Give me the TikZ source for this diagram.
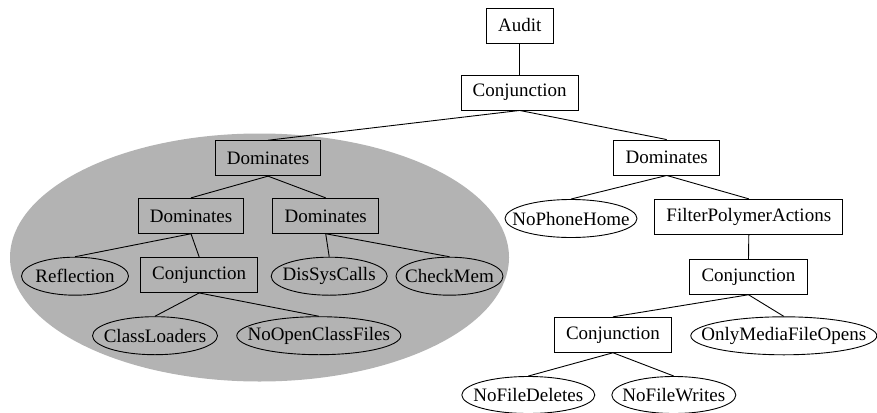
\documentclass[tikz,border=0pt]{standalone}
\usepackage{fontspec}
\setmainfont{Liberation Serif}
\usetikzlibrary{shapes.geometric}
\begin{document}
\begin{tikzpicture}[x=1pt,y=-1pt,
  every node/.style={font=\fontsize{19}{23}\selectfont},
  box/.style={draw, rectangle, line width=0.9pt, inner xsep=11.7pt, minimum height=35pt},
  ell/.style={draw, ellipse, line width=0.9pt, inner sep=-40pt, minimum height=38pt},
  edge/.style={line width=0.9pt}]
\useasboundingbox (0,0) rectangle (877,412);
\fill[fill={rgb,255:red,179;green,179;blue,179}] (259.5,257.5) ellipse [x radius=249.5, y radius=124];
% nodes
\node[box] (audit) at (519.7,25.5) {Audit};
\node[box] (conj1) at (519.7,92.5) {Conjunction};
\node[box] (domG) at (268,158.2) {Dominates};
\node[box] (domR) at (666.7,157.5) {Dominates};
\node[box] (dom1) at (191,215.8) {Dominates};
\node[box] (dom2) at (325.7,215.8) {Dominates};
\node[ell, minimum width=107pt] (refl) at (75,276.2) {Reflection};
\node[box] (conjG) at (199.2,275) {Conjunction};
\node[ell, minimum width=116pt] (dis) at (329.2,276.2) {DisSysCalls};
\node[ell, minimum width=107pt] (chk) at (449.5,276.2) {CheckMem};
\node[ell, minimum width=125pt] (cl) at (155,335.7) {ClassLoaders};
\node[ell, minimum width=164pt] (noc) at (318.8,335.7) {NoOpenClassFiles};
\node[ell, minimum width=132pt] (nph) at (571,218.5) {NoPhoneHome};
\node[box] (fpa) at (748.8,216.8) {FilterPolymerActions};
\node[box] (conj2) at (748.5,276.8) {Conjunction};
\node[box] (conj3) at (613,334.8) {Conjunction};
\node[ell, minimum width=186pt] (omf) at (783.8,335.8) {OnlyMediaFileOpens};
\node[ell, minimum width=133pt, minimum height=37pt] (nfd) at (528.3,395) {NoFileDeletes};
\node[ell, minimum width=124pt, minimum height=37pt] (nfw) at (673.8,395) {NoFileWrites};
% edges
\draw[edge] (audit.south) -- (conj1.north);
\draw[edge] (conj1.south) -- (domG.north);
\draw[edge] (conj1.south) -- (domR.north);
\draw[edge] (domG.south) -- (dom1.north);
\draw[edge] (domG.south) -- (dom2.north);
\draw[edge] (dom1.south) -- (refl.north);
\draw[edge] (dom1.south) -- (conjG.north);
\draw[edge] (conjG.south) -- (cl.north);
\draw[edge] (conjG.south) -- (noc.north);
\draw[edge] (dom2.south) -- (dis.north);
\draw[edge] (dom2.south) -- (chk.north);
\draw[edge] (domR.south) -- (nph.north);
\draw[edge] (domR.south) -- (fpa.north);
\draw[edge] (fpa.south) -- (conj2.north);
\draw[edge] (conj2.south) -- (conj3.north);
\draw[edge] (conj2.south) -- (omf.north);
\draw[edge] (conj3.south) -- (nfd.north);
\draw[edge] (conj3.south) -- (nfw.north);
\end{tikzpicture}
\end{document}
